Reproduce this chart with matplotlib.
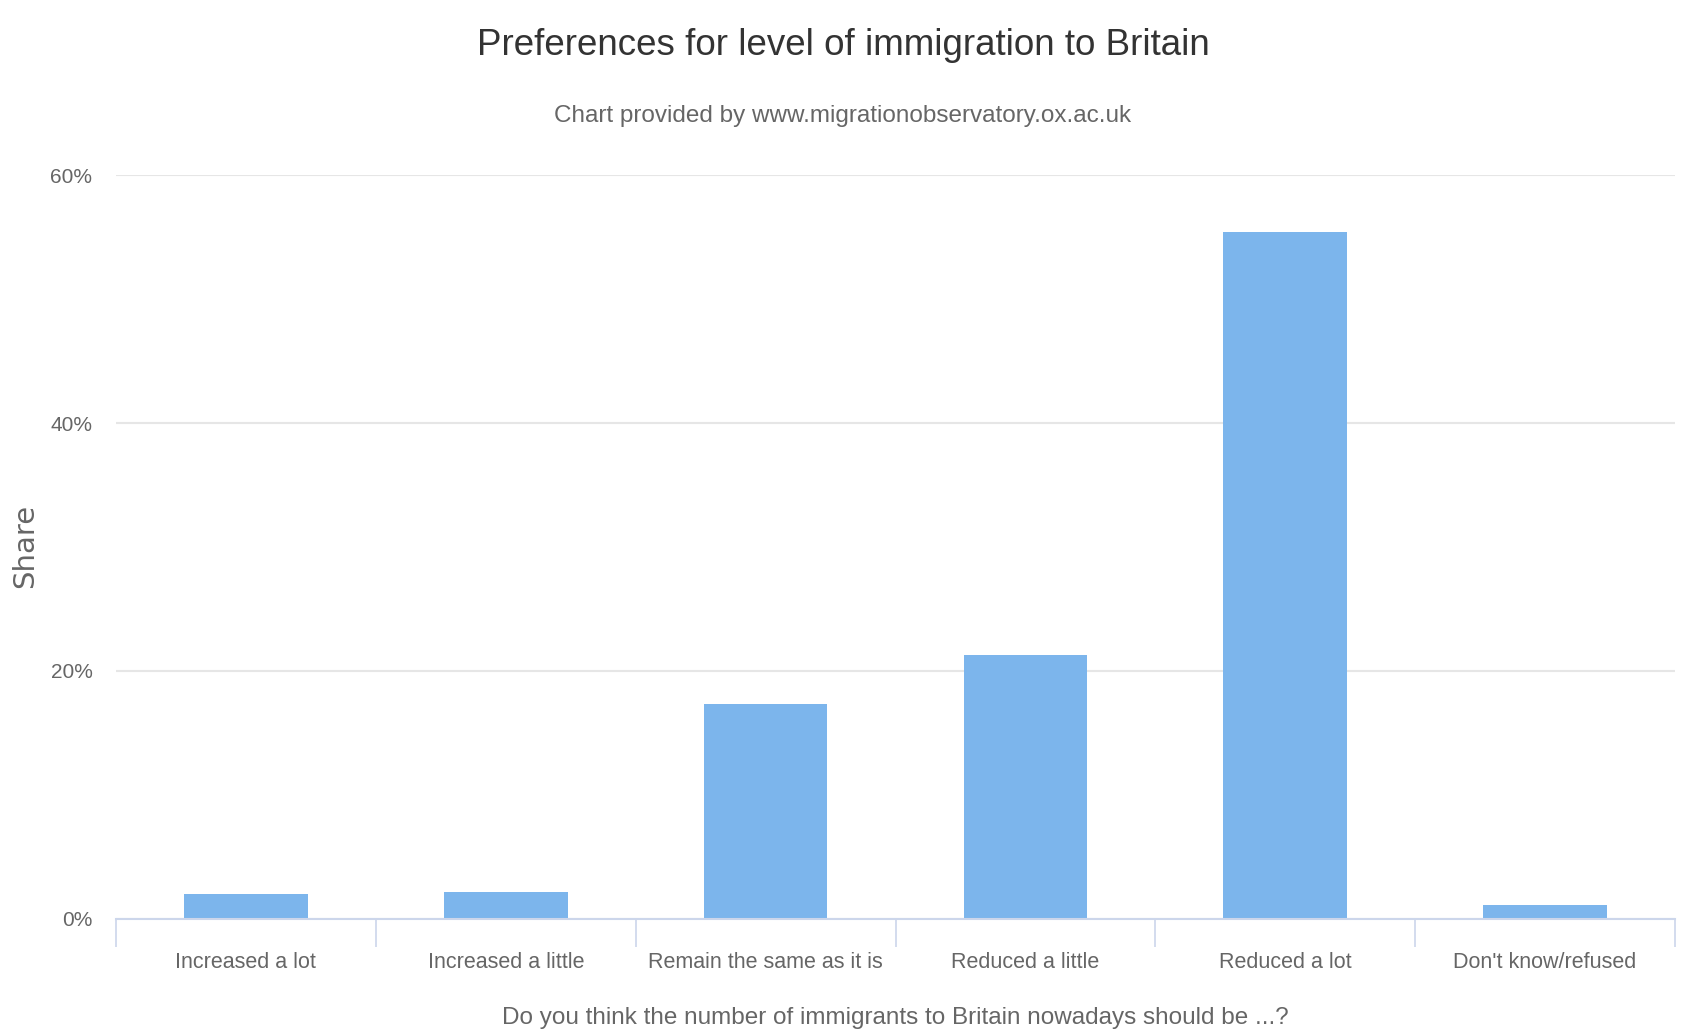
import matplotlib
matplotlib.use("Agg")
import matplotlib.pyplot as plt
import matplotlib.ticker as ticker

categories = ["Increased a lot", "Increased a little", "Remain the same as it is",
              "Reduced a little", "Reduced a lot", "Don't know/refused"]
share = [2.0, 2.2, 17.3, 21.3, 55.4, 1.1]
y_ticks = [0, 20, 40, 60]

narrow = ["Liberation Sans", "DejaVu Sans"]

fig = plt.figure(figsize=(16.86, 10.35), dpi=100)
ax = fig.add_axes([0.0688, 0.1121, 0.9247, 0.7188])

x = list(range(len(categories)))
ax.bar(x, share, width=0.476, color="#7cb5ec", zorder=3)

ax.set_xlim(-0.5, len(categories) - 0.5)
ax.set_ylim(0, 60)
ax.set_yticks(y_ticks)
ax.yaxis.set_major_formatter(ticker.FuncFormatter(lambda v, p: f"{v:.0f}%"))
ax.grid(axis="y", color="#e6e6e6", linewidth=1.5, zorder=0)

# category labels in the middle, tick marks on the boundaries
ax.set_xticks(x)
ax.set_xticklabels(categories)
ax.set_xticks([i - 0.5 for i in range(len(categories) + 1)], minor=True)
ax.tick_params(axis="x", which="major", length=0, pad=24, labelsize=15.5,
               labelcolor="#666666")
ax.tick_params(axis="x", which="minor", length=20, width=1.2, color="#ccd6eb")
ax.tick_params(axis="y", length=0, pad=17, labelsize=15, labelcolor="#666666")
for lab in ax.get_xticklabels() + ax.get_yticklabels():
    lab.set_family(narrow)

for side in ["top", "right", "left"]:
    ax.spines[side].set_visible(False)
ax.spines["bottom"].set_color("#ccd6eb")
ax.spines["bottom"].set_linewidth(1.5)
ax.spines["bottom"].set_zorder(4)

ax.set_ylabel("Share", fontsize=21, color="#666666")
ax.yaxis.set_label_coords(-0.049, 0.502)
ax.set_xlabel("Do you think the number of immigrants to Britain nowadays should be ...?",
              fontsize=17.5, color="#666666", family=narrow, labelpad=24)

fig.text(0.5, 0.956, "Preferences for level of immigration to Britain",
         ha="center", va="center", fontsize=26.5, color="#333333", family=narrow)
fig.text(0.5, 0.888, "Chart provided by www.migrationobservatory.ox.ac.uk",
         ha="center", va="center", fontsize=17.5, color="#666666", family=narrow)

fig.savefig("out.png", dpi=100, facecolor="white")
